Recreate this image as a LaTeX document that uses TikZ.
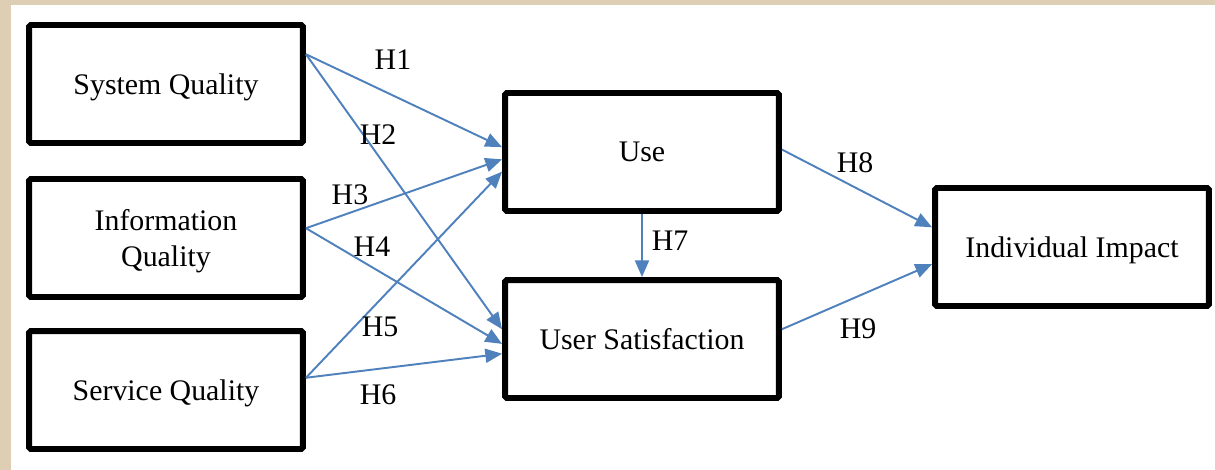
\documentclass[tikz,border=0pt]{standalone}
\usepackage{fontspec}
\setmainfont{Liberation Serif}
\usetikzlibrary{arrows.meta}
\definecolor{linkblue}{RGB}{79,129,189}
\definecolor{parchment}{RGB}{222,207,180}

\begin{document}
\begin{tikzpicture}[x=0.02cm, y=-0.02cm,
    box/.style={draw, line width=3.4pt, rounded corners=1pt, fill=white, minimum width=5.48cm, minimum height=2.36cm, align=center, text depth=0pt, font=\fontsize{17}{20.5}\selectfont},
    link/.style={draw=linkblue, line width=1.1pt, -{Triangle[length=9.5pt, width=8pt]}},
    hyp/.style={inner sep=0pt, font=\fontsize{17}{20.5}\selectfont}]

    \fill[parchment] (0,0) rectangle (1215,470);
    \fill[white] (11,5) rectangle (1215,470);
    \useasboundingbox (0,0) rectangle (1215,470);

    \node[box] (sys) at (166, 84) {System Quality};
    \node[box] (info) at (166, 238) {Information\\Quality};
    \node[box] (serv) at (166, 390) {Service Quality};
    \node[box] (use) at (642, 152) {Use};
    \node[box] (usat) at (642, 339) {User Satisfaction};
    \node[box] (imp) at (1072, 247) {Individual Impact};

    \draw[link] (sys.12) -- (use.178);
    \draw[link] (sys.12) -- (usat.176);
    \draw[link] (info.4) -- (use.183);
    \draw[link] (info.4) -- (usat.182);
    \draw[link] (serv.5) -- (use.188);
    \draw[link] (serv.5) -- (usat.186);
    \draw[link] (use.south) -- (usat.north);
    \draw[link] (use.1) -- (imp.172);
    \draw[link] (usat.4) -- (imp.187);

    \node[hyp] (h1) at (393, 60) {H1};
    \node[hyp] (h2) at (378, 135) {H2};
    \node[hyp] (h3) at (350, 195) {H3};
    \node[hyp] (h4) at (372, 247) {H4};
    \node[hyp] (h5) at (380, 327) {H5};
    \node[hyp] (h6) at (378, 395) {H6};
    \node[hyp] (h7) at (670, 241) {H7};
    \node[hyp] (h8) at (855, 163) {H8};
    \node[hyp] (h9) at (858, 329) {H9};

\end{tikzpicture}
\end{document}
